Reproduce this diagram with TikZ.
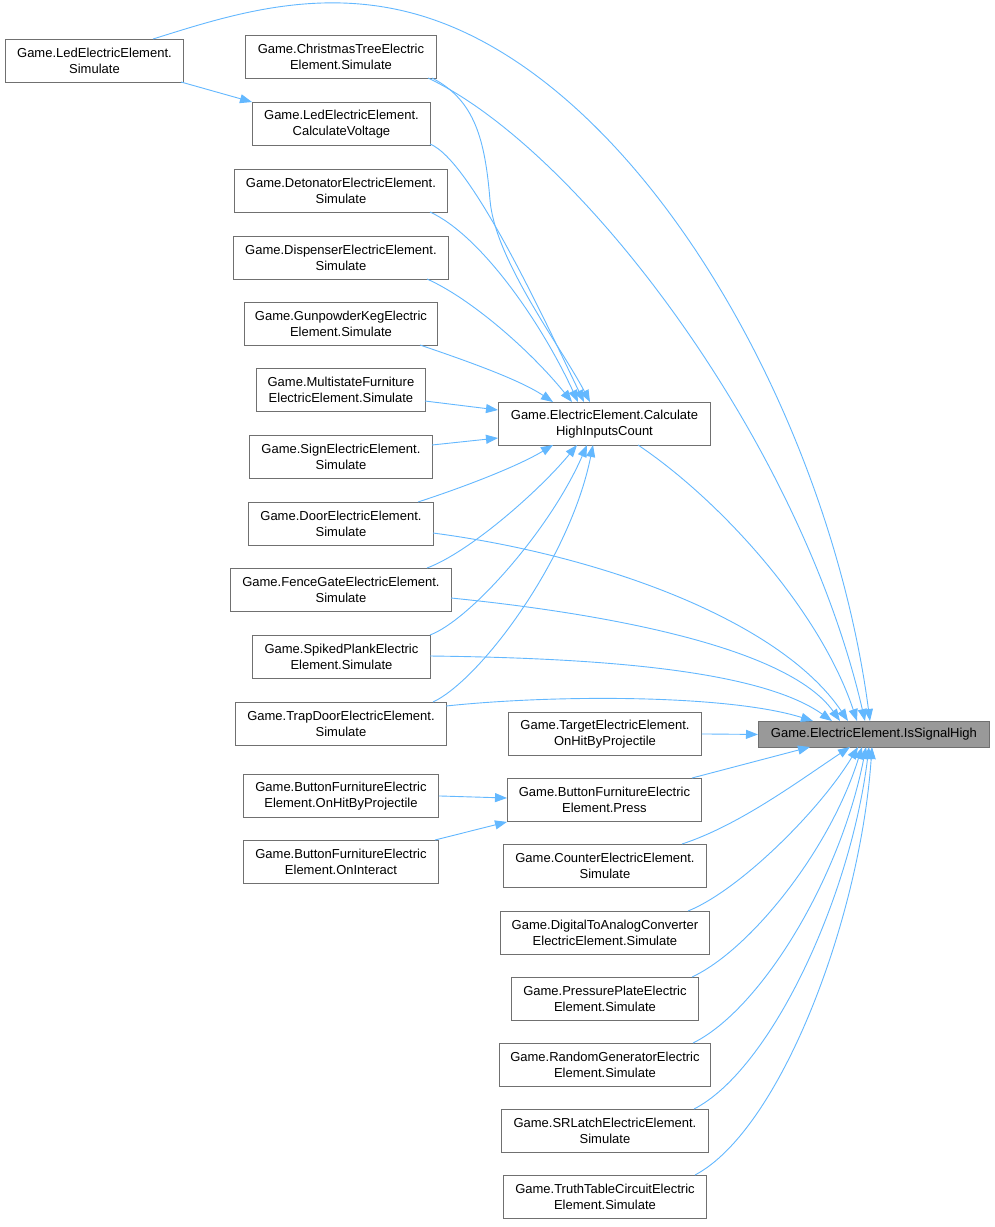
\documentclass[tikz,border=0pt]{standalone}
\usepackage{fontspec}
\setmainfont{Liberation Sans}
\usetikzlibrary{arrows.meta,calc}
\definecolor{edgeblue}{HTML}{63B8FF}
\definecolor{boxgray}{HTML}{707070}
\definecolor{hifill}{HTML}{999999}
\begin{document}
\begin{tikzpicture}[x=1pt,y=-1pt,
  box/.style={draw=boxgray, fill=white, line width=0.9pt, anchor=north west, minimum height=43pt, inner sep=0pt, align=center, font=\fontsize{13}{16}\selectfont},
  hl/.style={box, fill=hifill, minimum height=26pt},
  link/.style={draw=edgeblue, line width=0.9pt, -{Triangle[length=12pt,width=9pt,fill=edgeblue]}}]
\path[use as bounding box, fill=white] (0,0) rectangle (994,1227);

\node[box, minimum width=178pt] (ledsim) at (5,39) {Game.LedElectricElement.\\Simulate};
\node[box, minimum width=191pt] (xmas) at (245,35) {Game.ChristmasTreeElectric\\Element.Simulate};
\node[box, minimum width=178pt] (ledcv) at (252,102) {Game.LedElectricElement.\\CalculateVoltage};
\node[box, minimum width=213pt] (deton) at (234,169) {Game.DetonatorElectricElement.\\Simulate};
\node[box, minimum width=215pt] (disp) at (233,236) {Game.DispenserElectricElement.\\Simulate};
\node[box, minimum width=193pt] (gunp) at (244,302) {Game.GunpowderKegElectric\\Element.Simulate};
\node[box, minimum width=169pt] (multi) at (256,368) {Game.MultistateFurniture\\ElectricElement.Simulate};
\node[box, minimum width=212pt] (calc) at (498,402) {Game.ElectricElement.Calculate\\HighInputsCount};
\node[box, minimum width=183pt] (sign) at (249,435) {Game.SignElectricElement.\\Simulate};
\node[box, minimum width=185pt] (door) at (248,502) {Game.DoorElectricElement.\\Simulate};
\node[box, minimum width=221pt] (fence) at (230,568) {Game.FenceGateElectricElement.\\Simulate};
\node[box, minimum width=178pt] (spiked) at (252,635) {Game.SpikedPlankElectric\\Element.Simulate};
\node[box, minimum width=211pt] (trap) at (235,702) {Game.TrapDoorElectricElement.\\Simulate};
\node[box, minimum width=193pt] (target) at (508,712) {Game.TargetElectricElement.\\OnHitByProjectile};
\node[hl, minimum width=231pt] (issig) at (758,721) {Game.ElectricElement.IsSignalHigh};
\node[box, minimum width=194pt] (bpress) at (507,778) {Game.ButtonFurnitureElectric\\Element.Press};
\node[box, minimum width=195pt] (bonhit) at (243,774) {Game.ButtonFurnitureElectric\\Element.OnHitByProjectile};
\node[box, minimum width=195pt] (bonint) at (243,840) {Game.ButtonFurnitureElectric\\Element.OnInteract};
\node[box, minimum width=203pt] (counter) at (503,844) {Game.CounterElectricElement.\\Simulate};
\node[box, minimum width=209pt] (dac) at (500,911) {Game.DigitalToAnalogConverter\\ElectricElement.Simulate};
\node[box, minimum width=187pt] (press) at (511,977) {Game.PressurePlateElectric\\Element.Simulate};
\node[box, minimum width=211pt] (rand) at (499,1043) {Game.RandomGeneratorElectric\\Element.Simulate};
\node[box, minimum width=207pt] (sr) at (501,1109) {Game.SRLatchElectricElement.\\Simulate};
\node[box, minimum width=203pt] (truth) at (503,1175) {Game.TruthTableCircuitElectric\\Element.Simulate};

\draw[link] ($(ledsim.north west)+(148,0)$) .. controls (230,15) and (330,-19) .. (440,22) .. controls (650,100) and (830,420) .. ($(issig.north west)+(112,0)$);
\draw[link] ($(ledsim.north west)+(176,43)$) -- (ledcv.north west);
\draw[link] ($(xmas.north west)+(183,43)$) .. controls (580,150) and (800,440) .. ($(issig.north west)+(107,0)$);
\draw[link] ($(xmas.north west)+(187,43)$) .. controls (475,100) and (485,140) .. (490,200) .. controls (495,260) and (560,345) .. ($(calc.north west)+(92,0)$);
\draw[link] ($(ledcv.north west)+(178,42)$) .. controls (470,160) and (540,310) .. ($(calc.north west)+(86,0)$);
\draw[link] ($(deton.north west)+(196,43)$) .. controls (480,235) and (540,320) .. ($(calc.north west)+(80,0)$);
\draw[link] ($(disp.north west)+(194,43)$) .. controls (470,298) and (530,350) .. ($(calc.north west)+(74,0)$);
\draw[link] ($(gunp.north west)+(176,43)$) .. controls (470,362) and (520,380) .. ($(calc.north west)+(55,0)$);
\draw[link] ($(multi.north west)+(169,33)$) -- ($(calc.north west)+(0,8)$);
\draw[link] ($(sign.north west)+(183,10)$) -- ($(calc.north west)+(0,36)$);
\draw[link] ($(door.north west)+(170,0)$) .. controls (470,485) and (520,465) .. ($(calc.north west)+(55,43)$);
\draw[link] ($(fence.north west)+(197,0)$) .. controls (470,552) and (540,490) .. ($(calc.north west)+(79,43)$);
\draw[link] ($(spiked.north west)+(178,0)$) .. controls (470,620) and (550,530) .. ($(calc.north west)+(89,43)$);
\draw[link] ($(trap.north west)+(198,0)$) .. controls (480,680) and (570,560) .. ($(calc.north west)+(95,43)$);
\draw[link] ($(calc.north west)+(140,43)$) .. controls (720,500) and (820,610) .. ($(issig.north west)+(99,0)$);
\draw[link] ($(door.north west)+(185,31)$) .. controls (600,555) and (780,620) .. ($(issig.north west)+(90,0)$);
\draw[link] ($(fence.north west)+(221,30)$) .. controls (620,615) and (790,650) .. ($(issig.north west)+(82,0)$);
\draw[link] ($(spiked.north west)+(178,21)$) .. controls (600,658) and (760,670) .. ($(issig.north west)+(74,0)$);
\draw[link] ($(trap.north west)+(211,4)$) .. controls (560,694) and (730,695) .. ($(issig.north west)+(55,0)$);
\draw[link] (target.east) -- (issig.west);
\draw[link] ($(bpress.north west)+(185,0)$) -- ($(issig.north west)+(52,26)$);
\draw[link] (bonhit.east) -- ($(bpress.north west)+(0,20)$);
\draw[link] ($(bonint.north west)+(192,0)$) -- (bpress.south west);
\draw[link] ($(counter.north west)+(179,0)$) .. controls (740,825) and (800,780) .. ($(issig.north west)+(92,26)$);
\draw[link] ($(dac.north west)+(188,0)$) .. controls (740,890) and (820,810) .. ($(issig.north west)+(100,26)$);
\draw[link] ($(press.north west)+(181,0)$) .. controls (750,950) and (830,850) .. ($(issig.north west)+(104,26)$);
\draw[link] ($(rand.north west)+(194,0)$) .. controls (760,1010) and (840,880) .. ($(issig.north west)+(108,26)$);
\draw[link] ($(sr.north west)+(193,0)$) .. controls (770,1070) and (850,900) .. ($(issig.north west)+(111,26)$);
\draw[link] ($(truth.north west)+(192,0)$) .. controls (780,1130) and (860,920) .. ($(issig.north west)+(114,26)$);
\end{tikzpicture}
\end{document}
